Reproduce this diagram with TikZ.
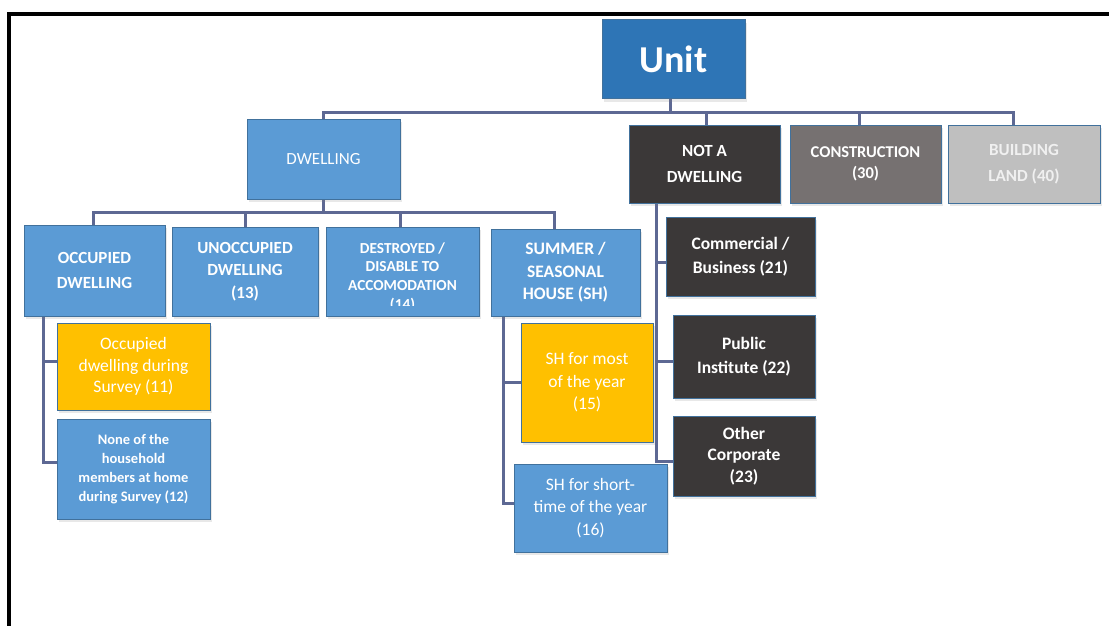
\documentclass[tikz,border=0pt]{standalone}
\usepackage{fontspec}
\setmainfont{Carlito}
\usetikzlibrary{shadows,calc}
\definecolor{unitblue}{HTML}{2E75B6}
\definecolor{lblue}{HTML}{5B9BD5}
\definecolor{gold}{HTML}{FFC000}
\definecolor{darkbox}{HTML}{3B3838}
\definecolor{midgray}{HTML}{767171}
\definecolor{lightgraybox}{HTML}{BFBFBF}
\definecolor{edgecol}{HTML}{41719C}
\definecolor{conncol}{HTML}{5D6893}
\newcommand\fsz[2]{\fontsize{#1}{#2}\selectfont}
\pgfdeclarelayer{back}
\pgfdeclarelayer{bg}
\pgfsetlayers{back,bg,main}
\begin{document}
\begin{tikzpicture}[x=1pt,y=-1pt,
  box/.style={draw=edgecol, line width=1pt, inner sep=0pt, outer sep=0pt, align=center, text=white,
    drop shadow={shadow xshift=1.5pt, shadow yshift=-3pt, opacity=0.18}},
  conn/.style={draw=conncol, line width=3pt},
  bluebox/.style={box, fill=lblue},
  goldbox/.style={box, fill=gold},
  darkfill/.style={box, fill=darkbox},
]
\useasboundingbox (0,0) rectangle (1109,626);
\begin{pgfonlayer}{back}
\fill[white] (0,0) rectangle (1109,626);
\end{pgfonlayer}
% frame
\draw[line width=4pt, line join=miter] (9,626) -- (9,14.5) -- (1109,14.5);

% level 0
\node[box, fill=unitblue, minimum width=143pt, minimum height=79pt, font=\fsz{38}{46}\bfseries] (unit) at (673.5,59.5) {Unit};

% level 1
\node[bluebox, minimum width=153pt, minimum height=80pt, font=\fsz{17}{22}] (dw) at (323.5,159) {DWELLING};
\node[darkfill, minimum width=151pt, minimum height=78pt, font=\fsz{17}{26}\bfseries] (nad) at (704.5,164) {NOT A\\DWELLING};
\node[box, fill=midgray, minimum width=151pt, minimum height=78pt, font=\fsz{16.5}{21}\bfseries] (con) at (865.5,164) {CONSTRUCTION\\(30)};
\node[box, fill=lightgraybox, text=white!94!black, minimum width=152pt, minimum height=78pt, font=\fsz{17}{26}\bfseries] (bl) at (1024,164) {BUILDING\\LAND (40)};

% level 2 (dwelling)
\node[bluebox, minimum width=141pt, minimum height=91pt, font=\fsz{17}{25}\bfseries] (occ) at (94.5,270.5) {OCCUPIED\\DWELLING};
\node[bluebox, minimum width=146pt, minimum height=89pt, font=\fsz{17}{22.5}\bfseries] (unocc) at (245,271.5) {UNOCCUPIED\\DWELLING\\(13)};
\node[bluebox, minimum width=153pt, minimum height=89pt] (des) at (402.5,271.5) {};
\begin{scope}
  \clip (des.north west) rectangle ([yshift=11pt]des.south east);
  \node[align=center, text=white, inner sep=0pt, font=\fsz{15.3}{18.7}\bfseries] (destxt) at (402.5,277) {DESTROYED /\\DISABLE TO\\ACCOMODATION\\(14)};
\end{scope}
\node[bluebox, minimum width=149pt, minimum height=87pt, font=\fsz{17.5}{22.5}\bfseries] (sum) at (565.5,272.5) {SUMMER /\\SEASONAL\\HOUSE (SH)};

% level 3
\node[goldbox, minimum width=153pt, minimum height=87pt, font=\fsz{17.5}{21.5}] (o11) at (133.5,366.5) {Occupied\\dwelling during\\Survey (11)};
\node[bluebox, minimum width=153pt, minimum height=100pt, font=\fsz{14.5}{19}\bfseries] (n12) at (133.5,469) {None of the\\household\\members at home\\during Survey (12)};
\node[goldbox, minimum width=132pt, minimum height=119pt, font=\fsz{17.5}{22.5}] (s15) at (587,382.5) {SH for most\\of the year\\(15)};
\node[bluebox, minimum width=153pt, minimum height=88pt, font=\fsz{17.5}{22.5}] (s16) at (590.5,508) {SH for short-\\time of the year\\(16)};

% not a dwelling children
\node[darkfill, minimum width=149pt, minimum height=79pt, font=\fsz{17.5}{24}\bfseries] (com) at (740.5,256.5) {Commercial /\\Business (21)};
\node[darkfill, minimum width=142pt, minimum height=83pt, font=\fsz{17.5}{24}\bfseries] (pub) at (744,356.5) {Public\\Institute (22)};
\node[darkfill, minimum width=142pt, minimum height=80pt, font=\fsz{17.5}{21.5}\bfseries] (oth) at (744,456) {Other\\Corporate\\(23)};

% connector helpers
\coordinate (busA) at (0,112);
\coordinate (busB) at (0,212);
\coordinate (occstem) at ([xshift=-51.5pt]occ.south);
\coordinate (o11in) at ([yshift=5.5pt]o11.west);
\coordinate (n12in) at ([yshift=7pt]n12.west);
\coordinate (shstem) at ([xshift=-62pt]sum.south);
\coordinate (s15in) at (s15.west);
\coordinate (s16in) at ([yshift=5pt]s16.west);
\coordinate (nadstem) at ([xshift=-48.5pt]nad.south);
\coordinate (comin) at ([yshift=-5.5pt]com.west);
\coordinate (pubin) at ([yshift=-4.5pt]pub.west);
\coordinate (othin) at ([yshift=-5pt]oth.west);

\begin{pgfonlayer}{bg}
\draw[conn] ([xshift=-3pt]unit.south) -- ([xshift=-3pt]unit.south |- busA);
\draw[conn] (dw.north) -- (dw.north |- busA) -- ([xshift=-11pt]bl.north |- busA) -- ([xshift=-11pt]bl.north);
\draw[conn] ([xshift=2pt]nad.north) -- ([xshift=2pt]nad.north |- busA);
\draw[conn] ([xshift=-6pt]con.north) -- ([xshift=-6pt]con.north |- busA);

\draw[conn] (dw.south) -- (dw.south |- busB);
\draw[conn] ([xshift=-1pt]occ.north) -- ([xshift=-1pt]occ.north |- busB) -- ([xshift=-11pt]sum.north |- busB) -- ([xshift=-11pt]sum.north);
\draw[conn] (unocc.north) -- (unocc.north |- busB);
\draw[conn] ([xshift=-2pt]des.north) -- ([xshift=-2pt]des.north |- busB);

\draw[conn] (occstem) |- (n12in);
\draw[conn] (occstem |- o11in) -- (o11in);

\draw[conn] (shstem) |- (s16in);
\draw[conn] (shstem |- s15in) -- (s15in);

\draw[conn] (nadstem) |- (othin);
\draw[conn] (nadstem |- comin) -- (comin);
\draw[conn] (nadstem |- pubin) -- (pubin);
\end{pgfonlayer}
\end{tikzpicture}
\end{document}
